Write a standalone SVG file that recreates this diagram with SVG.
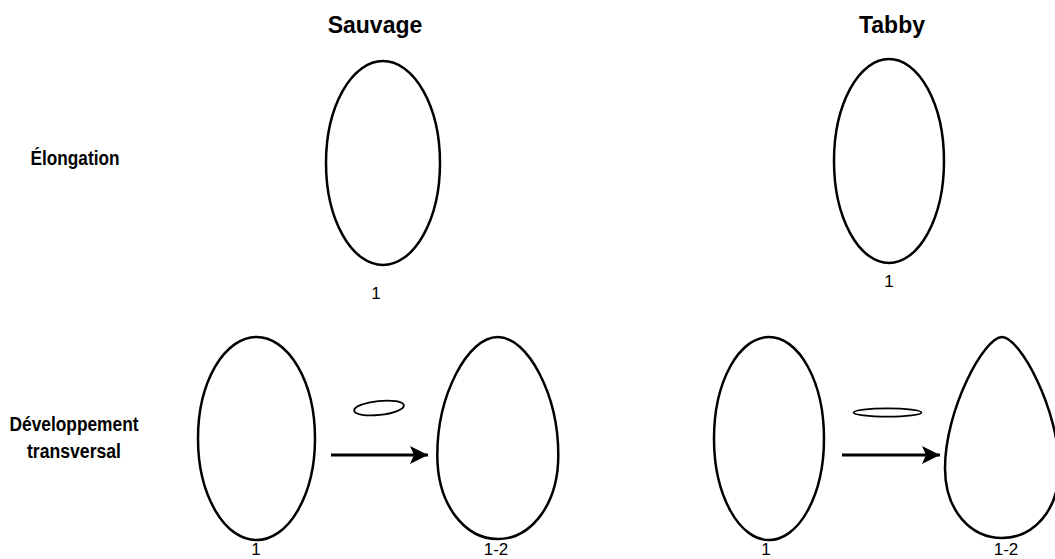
<svg xmlns="http://www.w3.org/2000/svg" width="1055" height="559" viewBox="0 0 1055 559">
  <style>
    .shape { fill: #ffffff; stroke: #000000; stroke-width: 2.5; }
    .thin { fill: #ffffff; stroke: #000000; stroke-width: 1.8; }
    .title { font-family: "Liberation Sans", Arial, Helvetica, sans-serif; font-weight: bold; font-size: 23px; fill: #000000; text-anchor: middle; }
    .row { font-family: "Liberation Sans Narrow", "Liberation Sans", Arial, sans-serif; font-weight: bold; font-size: 20px; fill: #000000; text-anchor: middle; }
    .num { font-family: "Liberation Sans", Arial, Helvetica, sans-serif; font-size: 17px; fill: #000000; text-anchor: middle; }
    .conn { stroke: #000000; stroke-width: 3; fill: none; }
  </style>
  <defs>
    <marker id="arrowhead" viewBox="0 0 20 20" refX="18" refY="10" markerWidth="20" markerHeight="20" markerUnits="userSpaceOnUse" orient="auto">
      <path d="M18,10 L0,1 L4,10 L0,19 Z" fill="#000000"/>
    </marker>
  </defs>
  <rect width="1055" height="559" fill="#ffffff"/>

  <g id="title-sauvage"><text class="title" x="375" y="33">Sauvage</text></g>
  <g id="title-tabby"><text class="title" x="892" y="33">Tabby</text></g>

  <g id="label-elongation"><text class="row" x="75" y="165" textLength="89" lengthAdjust="spacingAndGlyphs">Élongation</text></g>
  <g id="label-developpement">
    <text class="row" x="74" y="431" textLength="129" lengthAdjust="spacingAndGlyphs">Développement</text>
    <text class="row" x="74" y="458" textLength="94" lengthAdjust="spacingAndGlyphs">transversal</text>
  </g>

  <g id="sauvage-elong">
    <ellipse class="shape" cx="383" cy="163" rx="57" ry="102"/>
    <text class="num" x="376" y="299">1</text>
  </g>
  <g id="tabby-elong">
    <ellipse class="shape" cx="889" cy="161" rx="55" ry="102"/>
    <text class="num" x="889" y="287">1</text>
  </g>

  <g id="sauvage-dev-1">
    <ellipse class="shape" cx="256.5" cy="438.5" rx="58.5" ry="101.5"/>
    <text class="num" x="256" y="555">1</text>
  </g>
  <g id="sauvage-section">
    <ellipse class="thin" cx="379" cy="408" rx="25" ry="7" transform="rotate(-6 379 408)"/>
  </g>
  <g id="sauvage-dev-2">
    <path class="shape" d="M497.8,337 C528,337 558.3,395 558.3,455 C558.3,506 530,539 497.8,539 C465.6,539 437.3,506 437.3,455 C437.3,395 467.6,337 497.8,337 Z"/>
    <text class="num" x="496" y="555">1-2</text>
  </g>

  <g id="tabby-dev-1">
    <ellipse class="shape" cx="769" cy="438.5" rx="55" ry="101.5"/>
    <text class="num" x="766" y="555">1</text>
  </g>
  <g id="tabby-section">
    <ellipse class="thin" cx="887.5" cy="412.5" rx="34" ry="4.2"/>
  </g>
  <g id="tabby-dev-2">
    <path class="shape" d="M1002,337 C1020,337 1059,410 1059,468 C1059,511 1033,538 1002,538 C971,538 945,511 945,468 C945,410 984,337 1002,337 Z"/>
    <text class="num" x="1006" y="555">1-2</text>
  </g>

  <g id="connectors">
    <line class="conn" x1="331" y1="455" x2="428" y2="455" marker-end="url(#arrowhead)"/>
    <line class="conn" x1="842" y1="455" x2="940" y2="455" marker-end="url(#arrowhead)"/>
  </g>
</svg>
